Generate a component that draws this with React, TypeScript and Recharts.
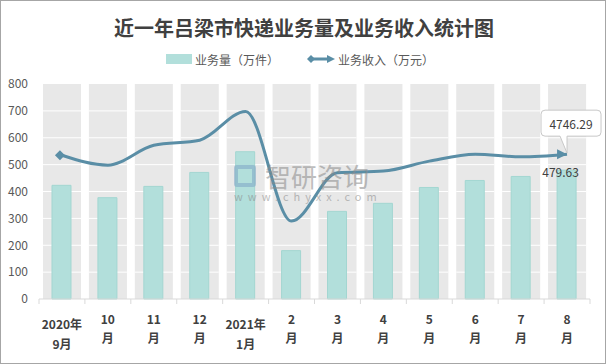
import React from "react";
import { ComposedChart, Bar, Line, XAxis, YAxis, LabelList } from "recharts";

const tickTop = ["2020年", "10", "11", "12", "2021年", "2", "3", "4", "5", "6", "7", "8"];
const tickBottom = ["9月", "月", "月", "月", "1月", "月", "月", "月", "月", "月", "月", "月"];
const volume = [423, 377, 419, 471, 548, 180, 326, 356, 415, 441, 456, 479.63];
const revenue = [535, 498, 572, 591, 698, 290, 470, 476, 513, 539, 529, 539];
const yTicks = [0, 100, 200, 300, 400, 500, 600, 700, 800];
const yMax = 800;
const revenueLabel = "4746.29";
const volumeLabel = "479.63";

const W = 606;
const H = 364;
const M = { top: 84, right: 16, bottom: 35, left: 0 };
const Y_W = 39;
const X_H = 30;
const BAND = (W - M.left - M.right - Y_W) / tickTop.length;

const BAR_FILL = "#b2dfdb";
const BAR_STROKE = "#a3d6d1";
const LINE = "#5a8ea6";
const GREY = "#e8e8e8";
const FONT = "'Noto Sans CJK SC', 'Noto Sans', sans-serif";

const data = tickTop.map((t, i) => ({
  name: t + tickBottom[i],
  volume: volume[i],
  revenue: revenue[i],
  bg: yMax,
}));

const BgShape = (p: any) => {
  const { x, y, width, height } = p;
  const lines = [];
  for (let k = 1; k < yTicks.length - 1; k++) {
    const yy = y + (height * k) / (yTicks.length - 1);
    lines.push(<line key={k} x1={x} x2={x + width} y1={yy} y2={yy} stroke="#ffffff" strokeWidth={1} />);
  }
  return (
    <g>
      <rect x={x} y={y} width={width} height={height} fill={GREY} />
      {lines}
    </g>
  );
};

const XTick = (p: any) => {
  const { x, y, payload } = p;
  const i = payload.index;
  const two = tickTop[i].length > 3;
  const left = x - BAND / 2;
  return (
    <g>
      <line x1={left} x2={left} y1={y} y2={y + 5} stroke="#d9d9d9" />
      {i === tickTop.length - 1 && (
        <line x1={x + BAND / 2} x2={x + BAND / 2} y1={y} y2={y + 5} stroke="#d9d9d9" />
      )}
      <text x={x} y={y + (two ? 24 : 19)} textAnchor="middle" dominantBaseline="central" fontSize={12} fontWeight="bold" fill="#404040" fontFamily={FONT}>
        {tickTop[i]}
      </text>
      <text x={x} y={y + (two ? 44 : 38)} textAnchor="middle" dominantBaseline="central" fontSize={12} fontWeight="bold" fill="#404040" fontFamily={FONT}>
        {tickBottom[i]}
      </text>
    </g>
  );
};

const LineDot = (p: any) => {
  const { cx, cy, index } = p;
  if (cx == null || cy == null) return <g key={index} />;
  if (index === 0) {
    const s = 5;
    return (
      <polygon key={index} points={`${cx - 2 - s},${cy} ${cx - 2},${cy - s} ${cx - 2 + s},${cy} ${cx - 2},${cy + s}`} fill={LINE} />
    );
  }
  if (index === revenue.length - 1) {
    return (
      <polygon key={index} points={`${cx},${cy} ${cx - 10},${cy - 5} ${cx - 10},${cy + 5}`} fill={LINE} />
    );
  }
  return <g key={index} />;
};

const Callout = (p: any) => {
  const { x, y, index } = p;
  if (index !== revenue.length - 1) return null;
  const L = x - 26, R = x + 34, T = y - 44, B = y - 18, r = 4;
  const d = `M${L + r},${T} L${R - r},${T} Q${R},${T} ${R},${T + r} L${R},${B - r} Q${R},${B} ${R - r},${B} L${x},${B} L${x},${y - 1} L${x - 7},${B} L${L + r},${B} Q${L},${B} ${L},${B - r} L${L},${T + r} Q${L},${T} ${L + r},${T} Z`;
  return (
    <g>
      <path d={d} fill="#ffffff" stroke="#c8c8c8" strokeWidth={1} />
      <text x={x + 4} y={y - 31} textAnchor="middle" dominantBaseline="central" fontSize={12} fill="#404040" fontFamily={FONT}>
        {revenueLabel}
      </text>
    </g>
  );
};

const BarLabel = (p: any) => {
  const { x, y, width, index } = p;
  if (index !== volume.length - 1) return null;
  return (
    <text x={x + width / 2 - 6} y={y + 1} textAnchor="middle" dominantBaseline="central" fontSize={12} fill="#404040" fontFamily={FONT}>
      {volumeLabel}
    </text>
  );
};

export default function App() {
  return (
    <div style={{ position: "relative", width: W, height: H, boxSizing: "border-box", border: "1px solid #a6a6a6", background: "#fff", fontFamily: FONT, overflow: "hidden" }}>
      <style>{`body{margin:0}`}</style>
      <div style={{ position: "absolute", left: 0, top: 13, width: W, textAlign: "center", fontSize: 20, fontWeight: "bold", color: "#404040", lineHeight: "28px" }}>
        近一年吕梁市快递业务量及业务收入统计图
      </div>
      <div style={{ position: "absolute", left: 165, top: 50, height: 16, display: "flex", alignItems: "center", fontSize: 12, color: "#595959" }}>
        <span style={{ display: "inline-block", width: 26, height: 10, background: BAR_FILL, marginRight: 3 }} />
        <span>业务量（万件）</span>
        <svg width={30} height={12} style={{ marginLeft: 27, marginRight: 2 }}>
          <line x1={5} x2={22} y1={6} y2={6} stroke={LINE} strokeWidth={3} />
          <polygon points="1,6 5,2 9,6 5,10" fill={LINE} />
          <polygon points="29,6 21,2 21,10" fill={LINE} />
        </svg>
        <span>业务收入（万元）</span>
      </div>
      <div style={{ position: "absolute", left: -1, top: -1 }}>
        <ComposedChart width={W} height={H} data={data} margin={M}>
          <XAxis
            xAxisId="main"
            dataKey="name"
            height={X_H}
            interval={0}
            tickSize={0}
            tickMargin={0}
            axisLine={{ stroke: "#d9d9d9" }}
            tickLine={false}
            tick={<XTick />}
          />
          <XAxis xAxisId="bg" dataKey="name" orientation="top" height={0} hide />
          <YAxis
            domain={[0, yMax]}
            ticks={yTicks}
            width={Y_W}
            axisLine={false}
            tickLine={false}
            tickSize={0}
            tickMargin={11}
            tick={{ fontSize: 12, fill: "#595959", fontFamily: FONT }}
          />
          <Bar xAxisId="bg" dataKey="bg" barSize={38} shape={<BgShape />} isAnimationActive={false} />
          <Bar xAxisId="main" dataKey="volume" barSize={19} fill={BAR_FILL} stroke={BAR_STROKE} isAnimationActive={false}>
            <LabelList dataKey="volume" content={<BarLabel />} />
          </Bar>
          <Line xAxisId="main" type="monotone" dataKey="revenue" stroke={LINE} strokeWidth={3} dot={<LineDot />} activeDot={false} isAnimationActive={false}>
            <LabelList dataKey="revenue" content={<Callout />} />
          </Line>
        </ComposedChart>
      </div>
      <div style={{ position: "absolute", left: 233, top: 160, width: 145, height: 45, pointerEvents: "none", opacity: 0.55 }}>
        <div style={{ position: "absolute", left: 0, top: 4, width: 22, height: 22, border: "4px solid #7ea6c6", borderRadius: 3, boxSizing: "border-box" }} />
        <div style={{ position: "absolute", left: 31, top: 2, fontSize: 26, lineHeight: "26px", height: 26, color: "#8a8a8a", letterSpacing: 0 }}>智研咨询</div>
        <div style={{ position: "absolute", left: 0, top: 29, fontSize: 11, lineHeight: "12px", height: 12, color: "#8a8a8a", letterSpacing: 5 }}>www.chyxx.com</div>
      </div>
    </div>
  );
}
